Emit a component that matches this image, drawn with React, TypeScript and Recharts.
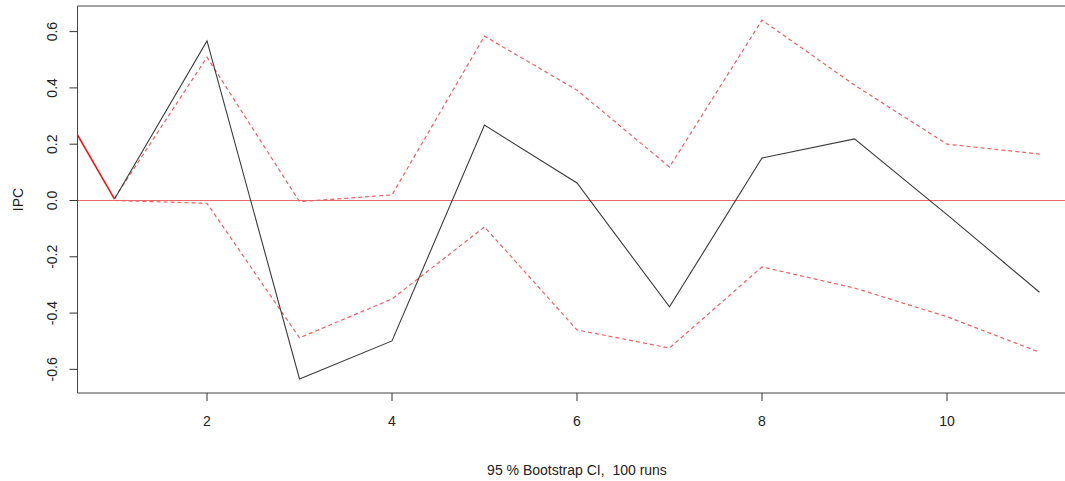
import React from 'react';
import { LineChart, Line, XAxis, YAxis, ReferenceLine, ReferenceArea } from 'recharts';

// Horizon steps (0 is the off-chart start of the red shock segment)
const steps = [0, 1, 2, 3, 4, 5, 6, 7, 8, 9, 10, 11];
// Impulse response (black)
const irf = [null, 0.005, 0.567, -0.634, -0.499, 0.268, 0.062, -0.378, 0.151, 0.219, -0.05, -0.326];
// Upper 95% bootstrap band
const upper = [null, 0.008, 0.509, -0.004, 0.02, 0.584, 0.392, 0.119, 0.641, 0.41, 0.2, 0.165];
// Lower 95% bootstrap band
const lower = [null, 0.0, -0.01, -0.488, -0.35, -0.094, -0.46, -0.524, -0.236, -0.311, -0.413, -0.539];
// Red solid segment entering from the left
const shock = [0.575, 0.005, null, null, null, null, null, null, null, null, null, null];

const xTicks = [2, 4, 6, 8, 10];
const yTicks = [-0.6, -0.4, -0.2, 0.0, 0.2, 0.4, 0.6];

const data = steps.map((s, i) => ({ step: s, irf: irf[i], upper: upper[i], lower: lower[i], shock: shock[i] }));

const FONT = '"Liberation Sans", Arial, Helvetica, sans-serif';
const FS = 14;
const X_DOMAIN: [number, number] = [0.6, 11.4];
const Y_DOMAIN: [number, number] = [-0.684, 0.691];

const YTick = (props: any) => {
  const { x, y, payload } = props;
  const cx = x - 17.5;
  return (
    <text
      x={cx}
      y={y}
      transform={`rotate(-90, ${cx}, ${y})`}
      textAnchor="middle"
      dominantBaseline="central"
      fontSize={FS}
      fontFamily={FONT}
      fill="#222"
    >
      {Number(payload.value).toFixed(1)}
    </text>
  );
};

const YLabel = (props: any) => {
  const vb = props.viewBox || { x: 17.5, y: 6, width: 60, height: 387 };
  const cx = vb.x + 0;
  const cy = vb.y + vb.height / 2;
  return (
    <text
      x={cx}
      y={cy}
      transform={`rotate(-90, ${cx}, ${cy})`}
      textAnchor="middle"
      dominantBaseline="central"
      fontSize={FS}
      fontFamily={FONT}
      fill="#222"
    >
      IPC
    </text>
  );
};

export default function App() {
  return (
    <div style={{ position: 'absolute', left: 0, top: 0, width: 1065, height: 481, overflow: 'hidden', background: '#fff' }}>
      <LineChart
        width={1090}
        height={481}
        data={data}
        margin={{ top: 6, right: 13.5, left: 17.5, bottom: 58 }}
      >
        <XAxis
          dataKey="step"
          type="number"
          domain={X_DOMAIN}
          allowDataOverflow
          ticks={xTicks}
          axisLine={false}
          tickLine={{ stroke: '#333' }}
          tickSize={8}
          tickMargin={15}
          height={30}
          tick={{ fontSize: FS, fontFamily: FONT, fill: '#222' }}
          label={{ value: '95 % Bootstrap CI,\u00a0 100 runs', position: 'bottom', offset: 42, fontSize: FS, fontFamily: FONT, fill: '#222' }}
        />
        <YAxis
          type="number"
          domain={Y_DOMAIN}
          allowDataOverflow
          ticks={yTicks}
          axisLine={false}
          tickLine={{ stroke: '#333' }}
          tickSize={8}
          tickMargin={0}
          width={60}
          tick={<YTick />}
          label={(p: any) => <YLabel {...p} />}
        />
        <ReferenceArea
          x1={X_DOMAIN[0]}
          x2={X_DOMAIN[1]}
          y1={Y_DOMAIN[0]}
          y2={Y_DOMAIN[1]}
          fill="none"
          stroke="#444"
          strokeWidth={1}
          ifOverflow="visible"
        />
        <ReferenceLine y={0} stroke="#e86a6a" strokeWidth={1.2} />
        <Line dataKey="upper" stroke="#f26060" strokeWidth={1.2} strokeDasharray="4 3" dot={false} isAnimationActive={false} connectNulls={false} />
        <Line dataKey="lower" stroke="#f26060" strokeWidth={1.2} strokeDasharray="4 3" dot={false} isAnimationActive={false} connectNulls={false} />
        <Line dataKey="irf" stroke="#3a3a3a" strokeWidth={1.1} dot={false} isAnimationActive={false} connectNulls={false} />
        <Line dataKey="shock" stroke="#e81818" strokeWidth={1.6} dot={false} isAnimationActive={false} connectNulls={false} />
      </LineChart>
    </div>
  );
}
